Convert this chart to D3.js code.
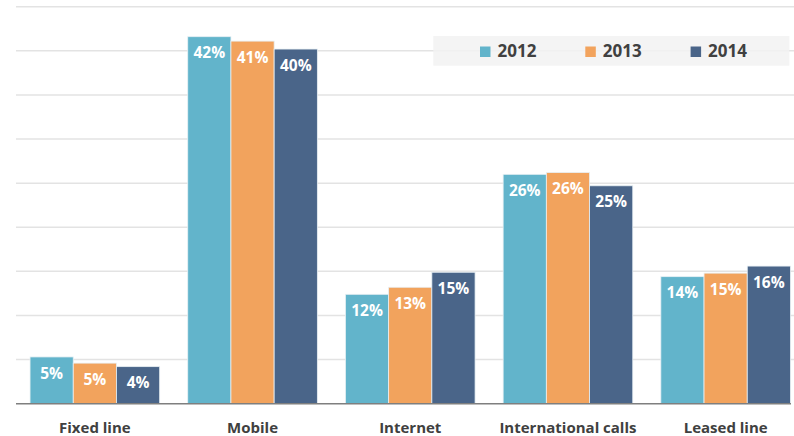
<!DOCTYPE html>
<html>
<head>
<meta charset="utf-8">
<script src="https://cdn.jsdelivr.net/npm/d3@7"></script>
<style>
  body { margin: 0; background: #fff; }
  svg { display: block; font-family: "Open Sans", Lato, sans-serif; }
</style>
</head>
<body>
<div id="wrapper"></div>
<script>
const categories = ["Fixed line", "Mobile", "Internet", "International calls", "Leased line"];
const years = ["2012", "2013", "2014"];
const values2012 = [5.3, 41.6, 12.4, 26.0, 14.4];
const values2013 = [4.6, 41.1, 13.2, 26.2, 14.8];
const values2014 = [4.2, 40.2, 14.9, 24.7, 15.6];
const yTicks = [0, 5, 10, 15, 20, 25, 30, 35, 40, 45];
const colors = ["#62b4cb", "#f2a35d", "#4a6589"];

function buildPlot() {
    const series = [values2012, values2013, values2014];
    const data = categories.map((c, i) => ({
        category: c,
        values: years.map((y, j) => ({ year: y, value: series[j][i] }))
    }));

    const dimension = {
        width: 794,
        height: 436,
        left: 16,
        baseline: 403.7,
        top: 6.7
    };

    const svg = d3.select("#wrapper").append("svg")
        .attr("width", dimension.width)
        .attr("height", dimension.height);

    const xScaler = d3.scaleBand()
        .domain(categories)
        .range([dimension.left, 804.5])
        .paddingInner(0.178)
        .paddingOuter(0.089);

    const yearScaler = d3.scaleBand()
        .domain(years)
        .range([0, xScaler.bandwidth()]);

    const yScaler = d3.scaleLinear()
        .domain([0, 45])
        .range([dimension.baseline, dimension.top]);

    const colorScaler = d3.scaleOrdinal().domain(years).range(colors);

    // gridlines
    svg.append("g")
        .selectAll("line")
        .data(yTicks.slice(1))
        .join("line")
        .attr("x1", dimension.left)
        .attr("x2", dimension.width)
        .attr("y1", d => yScaler(d))
        .attr("y2", d => yScaler(d))
        .attr("stroke", "#e3e3e3")
        .attr("stroke-width", 1.5);

    // bars
    const groups = svg.append("g")
        .selectAll("g")
        .data(data)
        .join("g")
        .attr("transform", d => `translate(${xScaler(d.category)},0)`);

    groups.selectAll("rect")
        .data(d => d.values)
        .join("rect")
        .attr("x", d => yearScaler(d.year))
        .attr("y", d => yScaler(d.value))
        .attr("width", yearScaler.bandwidth())
        .attr("height", d => yScaler(0) - yScaler(d.value))
        .attr("fill", d => colorScaler(d.year))
        .attr("stroke", "#e8f0f4")
        .attr("stroke-width", 0.8);

    groups.selectAll("text")
        .data(d => d.values)
        .join("text")
        .attr("x", d => yearScaler(d.year) + yearScaler.bandwidth() / 2)
        .attr("y", d => yScaler(d.value) + 21.6)
        .attr("text-anchor", "middle")
        .attr("fill", "#fff")
        .attr("font-size", 15.5)
        .attr("font-weight", "bold")
        .text(d => d3.format(".0f")(d.value) + "%");

    // baseline
    svg.append("line")
        .attr("x1", dimension.left)
        .attr("x2", 791)
        .attr("y1", yScaler(0))
        .attr("y2", yScaler(0))
        .attr("stroke", "#7f7f7f")
        .attr("stroke-width", 1.5);

    // category axis
    const xAxis = d3.axisBottom(xScaler).tickSize(0).tickPadding(0);
    const axisG = svg.append("g")
        .attr("transform", `translate(0,${yScaler(0)})`)
        .call(xAxis);
    axisG.select(".domain").remove();
    axisG.selectAll("text")
        .attr("dy", null)
        .attr("y", 29.5)
        .attr("font-family", "'Open Sans', sans-serif")
        .attr("font-size", 15)
        .attr("font-weight", "bold")
        .attr("fill", "#404040");

    // legend
    const legend = svg.append("g");
    legend.append("rect")
        .attr("x", 433.3)
        .attr("y", 36)
        .attr("width", 356)
        .attr("height", 29.7)
        .attr("fill", "#f2f2f2")
        .attr("fill-opacity", 0.85);

    const items = legend.selectAll("g")
        .data(years)
        .join("g")
        .attr("transform", (d, i) => `translate(${480 + i * 105.3},0)`);
    items.append("rect")
        .attr("y", 46.5)
        .attr("width", 10.5)
        .attr("height", 10.5)
        .attr("fill", d => colorScaler(d));
    items.append("text")
        .attr("x", 17.5)
        .attr("y", 57.3)
        .attr("font-size", 17)
        .attr("font-weight", "bold")
        .attr("fill", "#404040")
        .text(d => d);
}

buildPlot();
</script>
</body>
</html>
